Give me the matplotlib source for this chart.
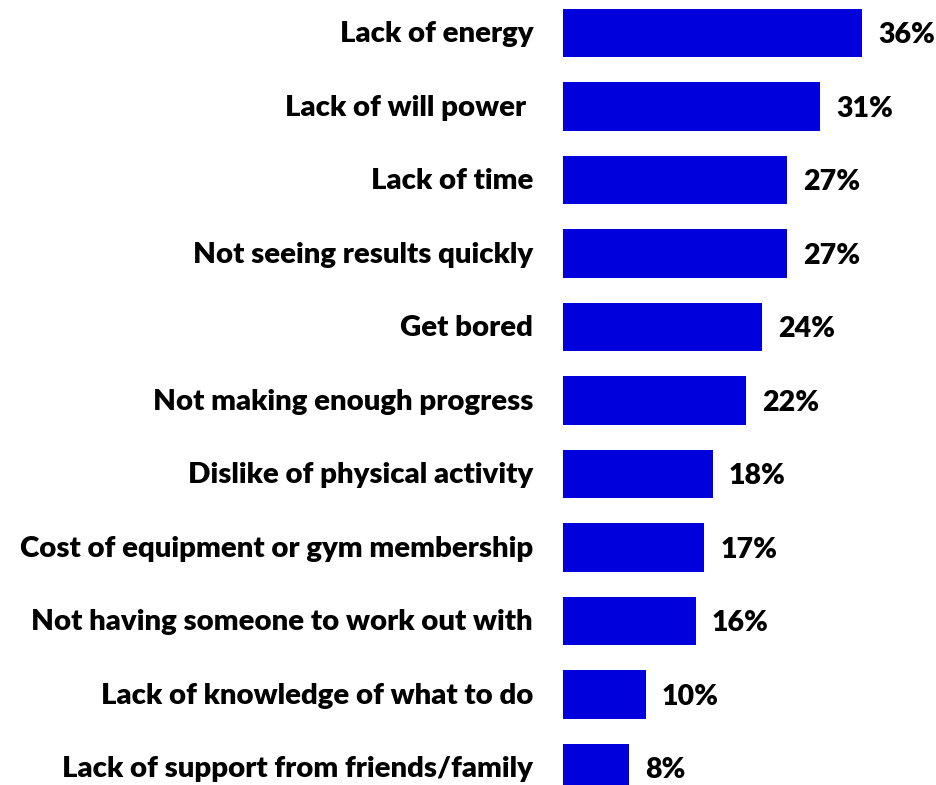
import matplotlib
matplotlib.use("Agg")
import matplotlib.pyplot as plt

categories = [
    "Lack of energy",
    "Lack of will power ",
    "Lack of time",
    "Not seeing results quickly",
    "Get bored",
    "Not making enough progress",
    "Dislike of physical activity",
    "Cost of equipment or gym membership",
    "Not having someone to work out with",
    "Lack of knowledge of what to do",
    "Lack of support from friends/family",
]
values = [36, 31, 27, 27, 24, 22, 18, 17, 16, 10, 8]

bar_color = "#0000DD"
font = "Lato"

fig = plt.figure(figsize=(9.36, 7.85), dpi=100)
ax = fig.add_axes([563 / 936, 0, 299 / 936, 1])

ypos = list(range(len(categories)))
ax.barh(ypos, values, height=0.66, color=bar_color)
ax.set_xlim(0, 36)
ax.set_ylim(10.23, -0.449)

for y, v, cat in zip(ypos, values, categories):
    ax.annotate(f"{v}%", xy=(v, y), xytext=(16, -2), textcoords="offset pixels",
                ha="left", va="center", fontsize=20.5, fontweight="heavy",
                family=font, annotation_clip=False)
    ax.annotate(cat, xy=(0, y), xytext=(-30, -1), textcoords="offset pixels",
                ha="right", va="center", fontsize=21.2, fontweight="heavy",
                family=font, annotation_clip=False)

ax.axis("off")

plt.savefig("out.png", dpi=100)
